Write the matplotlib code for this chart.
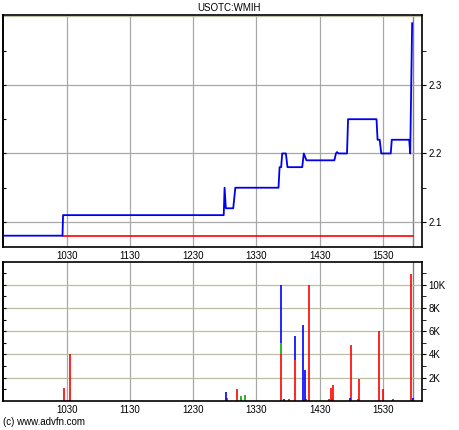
import matplotlib.pyplot as plt
import numpy as np

# time in minutes after midnight, price
price_times = [570, 626, 626.5, 779, 779.8, 781, 788, 790, 831, 832, 833.5, 834.5,
               838, 839.5, 853.5, 855, 857.5, 884, 885.5, 886.5, 888, 896, 897,
               924, 925, 927, 928.5, 937.5, 938.5, 955, 956, 957.8]
prices = [2.08, 2.08, 2.11, 2.11, 2.15, 2.12, 2.12, 2.15, 2.15, 2.18, 2.18, 2.20,
          2.20, 2.18, 2.18, 2.20, 2.19, 2.19, 2.20, 2.202, 2.20, 2.20, 2.25,
          2.25, 2.22, 2.22, 2.20, 2.20, 2.22, 2.22, 2.20, 2.39]
prev_close = 2.08

# volume bars: time, volume (shares), colour
vol_times = [627.5, 633, 781, 781.8, 791.5, 795.5, 799, 836, 841, 853.9, 856,
             856.8, 859.6, 879, 881, 882, 883, 899, 900, 906, 907, 926, 929.7,
             940, 957.2, 958.8]
vol_red = [1100, 4000, 0, 300, 1000, 0, 0, 0, 150, 0, 0, 150, 10000, 200, 1100,
           200, 1400, 0, 4800, 150, 1900, 6000, 1000, 200, 10900, 0]
vol_green = [0, 0, 0, 0, 0, 400, 550, 0, 0, 0, 0, 0, 0, 0, 0, 0, 0, 0, 0, 0, 0,
             0, 0, 0, 0, 0]
vol_blue = [0, 0, 760, 0, 0, 0, 0, 150, 0, 6500, 2700, 0, 0, 0, 0, 0, 0, 300, 0,
            0, 0, 0, 0, 0, 0, 300]
# stacked bars (red / green / blue)
stack_times = [833, 846.3]
stack_red = [4000, 3500]
stack_green = [1000, 0]
stack_blue = [5000, 2050]

xticks = [630, 690, 750, 810, 870, 930]
xlabels = ["1030", "1130", "1230", "1330", "1430", "1530"]
xlim = (569.5, 967)

plt.rcParams['font.family'] = ['Liberation Sans', 'DejaVu Sans']

fig = plt.figure(figsize=(4.6, 4.3), dpi=100)
ax1 = fig.add_axes([0.0065, 0.4256, 0.9105, 0.5394])
ax2 = fig.add_axes([0.0065, 0.0674, 0.9105, 0.3233])

vgrid = '#a8a8a8'
hgrid = '#bcbca4'

for ax in (ax1, ax2):
    ax.set_xlim(*xlim)
    ax.set_xticks(xticks)
    ax.set_xticklabels(xlabels, fontsize=7)
    ax.tick_params(axis='x', length=0, pad=3)
    ax.yaxis.tick_right()
    ax.tick_params(axis='y', which='both', direction='out', length=3, labelsize=7,
                   right=True, left=False, pad=2)
    for x in xticks:
        ax.axvline(x, color=vgrid, lw=0.9, zorder=0)
    ax.axvline(959, color='#808080', lw=1.0, zorder=0)
    for s in ax.spines.values():
        s.set_linewidth(1.2)

# price panel
ax1.set_ylim(2.0635, 2.402)
ax1.set_yticks([2.1, 2.2, 2.3])
ax1.set_yticklabels(["2.1", "2.2", "2.3"])
ax1.set_yticks([2.15, 2.25, 2.35], minor=True)
for y in [2.1, 2.2, 2.3, 2.4]:
    ax1.axhline(y, color=hgrid if y == 2.4 else vgrid, lw=0.9, zorder=0)
ax1.plot([626, 959], [prev_close, prev_close], color='#ff0000', lw=1.2, zorder=2)
ax1.plot(price_times, prices, color='#0000ee', lw=1.3, zorder=3)

# volume panel
ax2.set_ylim(0, 11950)
ax2.set_yticks([2000, 4000, 6000, 8000, 10000])
ax2.set_yticklabels(["2K", "4K", "6K", "8K", "10K"])
ax2.set_yticks(np.arange(1000, 12000, 2000), minor=True)
for y in [2000, 4000, 6000, 8000, 10000]:
    ax2.axhline(y, color=hgrid, lw=0.9, zorder=0)

# inward ticks on the left edge
for ax in (ax1, ax2):
    sec = ax.secondary_yaxis('left')
    sec.set_yticks(list(ax.get_yticks()) + list(ax.get_yticks(minor=True)))
    sec.tick_params(direction='in', length=2, labelleft=False)
    sec.spines['left'].set_linewidth(1.2)

vt = np.array(vol_times)
r = np.array(vol_red)
g = np.array(vol_green)
b = np.array(vol_blue)
ax2.vlines(vt, 0, r, color='#ff0000', lw=1.2, zorder=2)
ax2.vlines(vt, r, r + g, color='#00aa00', lw=1.2, zorder=2)
ax2.vlines(vt, r + g, r + g + b, color='#0000ff', lw=1.2, zorder=2)
st = np.array(stack_times)
sr = np.array(stack_red)
sg = np.array(stack_green)
sb = np.array(stack_blue)
ax2.vlines(st, 0, sr, color='#ff0000', lw=1.2, zorder=2)
ax2.vlines(st, sr, sr + sg, color='#00aa00', lw=1.2, zorder=2)
ax2.vlines(st, sr + sg, sr + sg + sb, color='#0000ff', lw=1.2, zorder=2)

fig.text(0.498, 0.981, "USOTC:WMIH", fontsize=7, ha='center', va='center')
fig.text(0.006, 0.012, "(c) www.advfn.com", fontsize=7)

fig.savefig("out.png", dpi=100)
